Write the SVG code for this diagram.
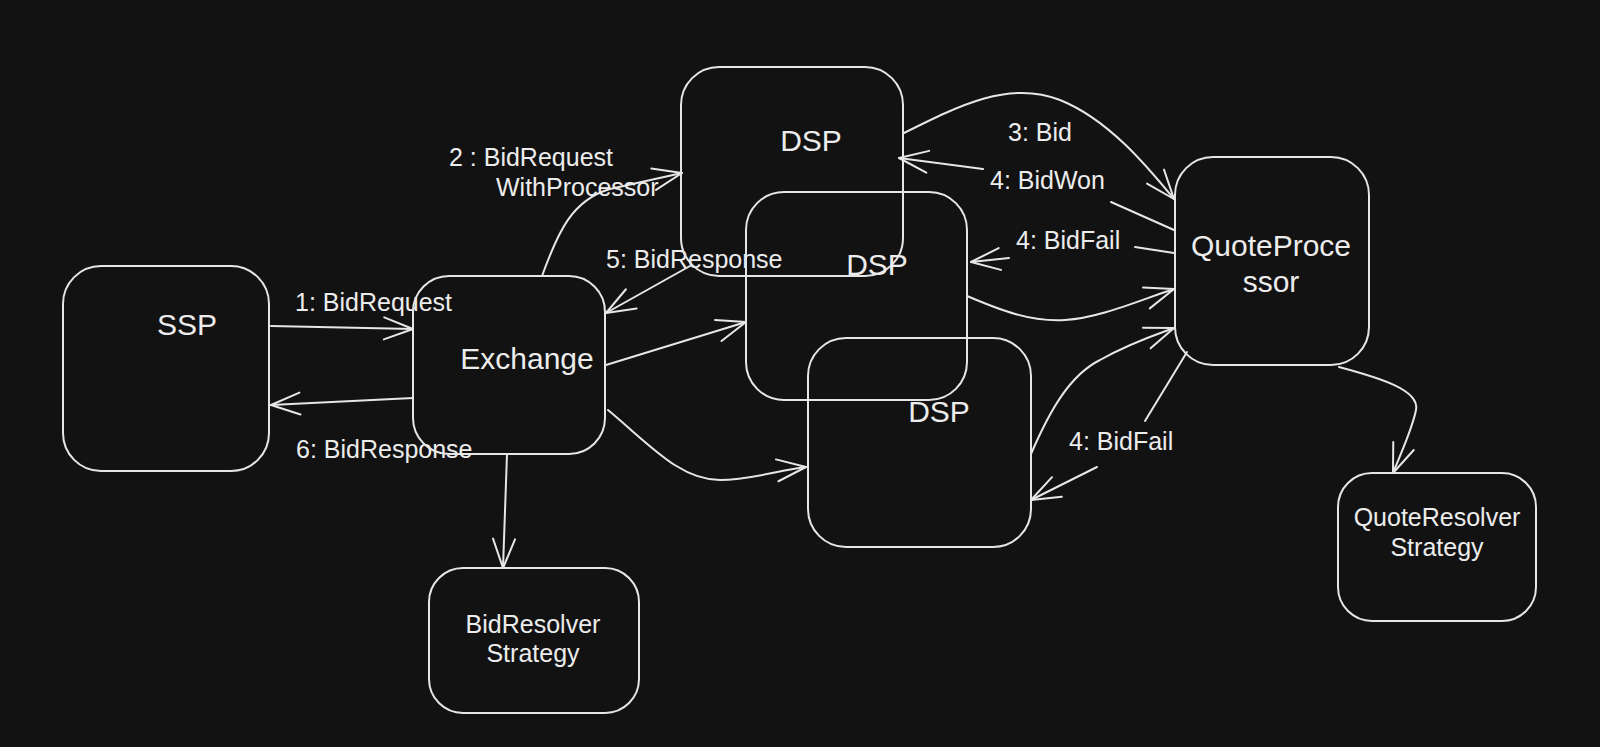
<svg xmlns="http://www.w3.org/2000/svg" width="1600" height="747" viewBox="0 0 1600 747">
<style>
.bg{fill:#121212}
.box{fill:none;stroke:#e6e6e6;stroke-width:2}
.box2{fill:none;stroke:#e6e6e6;stroke-width:1;opacity:0.6}
.edge{fill:none;stroke:#e6e6e6;stroke-width:2;stroke-linecap:round}
.lbl{font-family:"Liberation Sans",Arial,sans-serif;fill:#ececec}
.n{font-size:30px;text-anchor:middle}
.s{font-size:25px;text-anchor:middle}
.e{font-size:25px}
</style>
<defs>
<marker id="arrow" markerUnits="userSpaceOnUse" markerWidth="36" markerHeight="28" refX="32" refY="14" orient="auto" overflow="visible">
<path d="M3,3 L32,14 L3,25" fill="none" stroke="#e6e6e6" stroke-width="2" stroke-linecap="round" stroke-linejoin="round"/>
</marker>
</defs>
<rect class="bg" x="0" y="0" width="1600" height="747"/>

<g id="connectors">
<path class="edge" d="M271,326 L413,329" marker-end="url(#arrow)"/>
<path class="edge" d="M413,398 L271,405" marker-end="url(#arrow)"/>
<path class="edge" d="M542,276 C558,232 572,200 610,189 Q650,180 682,173" marker-end="url(#arrow)"/>
<path class="edge" d="M690,266 L606,313" marker-end="url(#arrow)"/>
<path class="edge" d="M606,365 L746,322" marker-end="url(#arrow)"/>
<path class="edge" d="M608,410 C650,445 680,480 720,480 C750,480 780,470 806,467" marker-end="url(#arrow)"/>
<path class="edge" d="M507,454 L503,568" marker-end="url(#arrow)"/>
<path class="edge" d="M904,133 C960,105 1010,80 1060,100 C1110,120 1150,170 1174,199" marker-end="url(#arrow)"/>
<path class="edge" d="M983,169 L899,158" marker-end="url(#arrow)"/>
<path class="edge" d="M1174,230 L1111,202"/>
<path class="edge" d="M1174,253 L1135,247"/>
<path class="edge" d="M1009,258 L971,262" marker-end="url(#arrow)"/>
<path class="edge" d="M967,296 C1000,310 1030,322 1065,320 C1100,318 1140,300 1174,289" marker-end="url(#arrow)"/>
<path class="edge" d="M1031,454 C1050,410 1070,375 1100,360 C1130,343 1155,335 1174,328" marker-end="url(#arrow)"/>
<path class="edge" d="M1187,352 L1145,421"/>
<path class="edge" d="M1097,467 L1031,500" marker-end="url(#arrow)"/>
<path class="edge" d="M1339,367 C1380,378 1420,390 1416,410 C1412,430 1400,455 1393,473" marker-end="url(#arrow)"/>
<text class="lbl e" x="295" y="311">1: BidRequest</text>
<text class="lbl e" x="296" y="458">6: BidResponse</text>
<text class="lbl e" x="449" y="166">2 : BidRequest</text>
<text class="lbl e" x="496" y="196">WithProcessor</text>
<text class="lbl e" x="606" y="268">5: BidResponse</text>
<text class="lbl e" x="1008" y="141">3: Bid</text>
<text class="lbl e" x="990" y="189">4: BidWon</text>
<text class="lbl e" x="1016" y="249">4: BidFail</text>
<text class="lbl e" x="1069" y="450">4: BidFail</text>
</g>

<g id="ssp">
<rect class="box" x="63" y="266" width="206" height="205" rx="38"/>
<text class="lbl n" x="187" y="335">SSP</text>
</g>
<g id="exchange">
<rect class="box" x="413" y="276" width="192" height="178" rx="36"/>
<text class="lbl n" x="527" y="369">Exchange</text>
</g>
<g id="dsp1">
<rect class="box" x="681" y="67" width="222" height="209" rx="38"/>
<text class="lbl n" x="811" y="151">DSP</text>
</g>
<g id="dsp2">
<rect class="box" x="746" y="192" width="221" height="208" rx="38"/>
<text class="lbl n" x="877" y="275">DSP</text>
</g>
<g id="dsp3">
<rect class="box" x="808" y="338" width="223" height="209" rx="38"/>
<text class="lbl n" x="939" y="422">DSP</text>
</g>
<g id="quoteprocessor">
<rect class="box" x="1175" y="157" width="194" height="208" rx="38"/>
<text class="lbl n" x="1271" y="256">QuoteProce</text>
<text class="lbl n" x="1271" y="292">ssor</text>
</g>
<g id="bidresolver">
<rect class="box" x="429" y="568" width="210" height="145" rx="34"/>
<text class="lbl s" x="533" y="633">BidResolver</text>
<text class="lbl s" x="533" y="662">Strategy</text>
</g>
<g id="quoteresolver">
<rect class="box" x="1338" y="473" width="198" height="148" rx="34"/>
<text class="lbl s" x="1437" y="526">QuoteResolver</text>
<text class="lbl s" x="1437" y="556">Strategy</text>
</g>
</svg>
